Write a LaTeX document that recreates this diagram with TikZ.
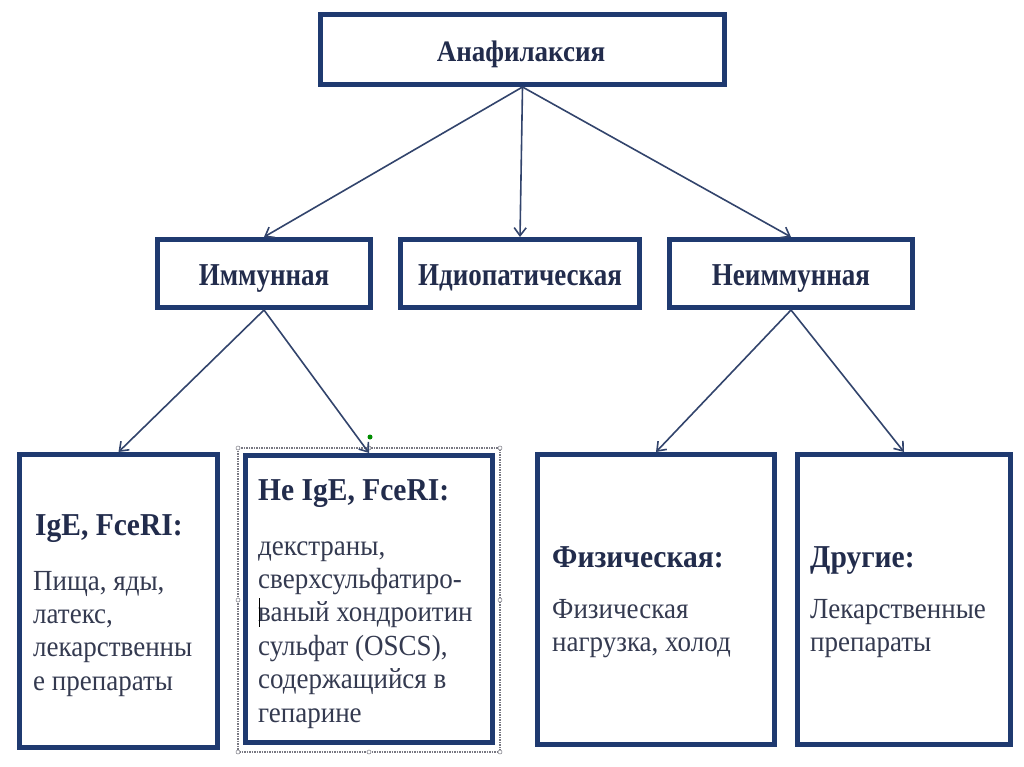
\documentclass[tikz,border=0pt]{standalone}
\usepackage{fontspec}
\usepackage{graphicx}
\setmainfont{Liberation Serif}
\usetikzlibrary{arrows.meta}
\definecolor{boxblue}{RGB}{31,58,112}
\definecolor{arrowblue}{RGB}{50,68,108}
\definecolor{headtext}{RGB}{34,44,76}
\definecolor{bodytext}{RGB}{52,58,80}
\definecolor{selgray}{RGB}{120,120,130}
\newcommand{\vstretch}[2]{\scalebox{1}[#1]{#2}}
\begin{document}
\begin{tikzpicture}[x=1pt,y=-1pt,
  box/.style={draw=boxblue,line width=5pt,fill=white,inner sep=0pt},
  lbl/.style={anchor=base,text=headtext,font=\bfseries\fontsize{27}{32}\selectfont,inner sep=0pt},
  head/.style={anchor=base west,text=headtext,font=\bfseries\fontsize{29.5}{34}\selectfont,inner sep=0pt},
  body/.style={anchor=base west,text=bodytext,font=\fontsize{27}{31}\selectfont,inner sep=0pt},
  conn/.style={draw=arrowblue,line width=1.6pt,-{Straight Barb[length=8pt,width=12pt,line width=1.6pt]}},
  handle/.style={circle,draw=selgray,fill=white,line width=0.5pt,inner sep=0pt,minimum size=4pt}
]
\useasboundingbox[fill=white] (0,0) rectangle (1024,767);

% boxes
\node[box,minimum width=404pt,minimum height=70pt] (top) at (522.5,49.5) {};
\node[box,minimum width=213pt,minimum height=68pt] (imm) at (264,273.5) {};
\node[box,minimum width=239pt,minimum height=68pt] (idio) at (520,273.5) {};
\node[box,minimum width=243pt,minimum height=68pt] (nonimm) at (791,273.5) {};

% selection frame around box 2
\draw[selgray,densely dotted,line width=1.5pt] (238,448) rectangle (500,752);
\node[box,minimum width=198pt,minimum height=293pt] (b1) at (118.5,601) {};
\node[box,minimum width=247pt,minimum height=287pt] (b2) at (369,599) {};
\node[box,minimum width=237pt,minimum height=290pt] (b3) at (656,599.5) {};
\node[box,minimum width=213pt,minimum height=290pt] (b4) at (904,599.5) {};
\foreach \hx/\hy [count=\i] in {238/448,369/448,500/448,238/600,500/600,238/752,369/752,500/752}
  \node[handle] (h\i) at (\hx,\hy) {};
\node[circle,fill=green!55!black,inner sep=0pt,minimum size=5pt] (rot) at (370,437) {};

% labels
\node[lbl] (ttop) at (521,62) {\vstretch{1.1}{Анафилаксия}};
\node[lbl] (timm) at (264,285) {\vstretch{1.18}{Иммунная}};
\node[lbl] (tidio) at (520,285) {\vstretch{1.18}{Идиопатическая}};
\node[lbl] (tnon) at (791,285) {\vstretch{1.18}{Неиммунная}};

\node[head] (h1) at (35,535) {\vstretch{1.08}{IgE, FceRI:}};
\node[body] (t1) at (33,590) {\vstretch{1.08}{\parbox[t]{185pt}{\raggedright Пища, яды,\\латекс,\\лекарственны\\е препараты}}};

\node[head] (h2) at (258,500) {\vstretch{1.08}{Не IgE, FceRI:}};
\node[body] (t2) at (258,555) {\vstretch{1.08}{\parbox[t]{235pt}{\raggedright декстраны,\\сверхсульфатиро-\\ваный хондроитин\\сульфат (OSCS),\\содержащийся в\\гепарине}}};
\draw[black,line width=0.8pt] (259,598) -- (259,627);

\node[head] (h3) at (552,567) {\vstretch{1.08}{Физическая:}};
\node[body] (t3) at (552,618) {\vstretch{1.08}{\parbox[t]{220pt}{\raggedright Физическая\\нагрузка, холод}}};

\node[head] (h4) at (810,567) {\vstretch{1.08}{Другие:}};
\node[body] (t4) at (810,618) {\vstretch{1.08}{\parbox[t]{200pt}{\raggedright Лекарственные\\препараты}}};

% connectors
\draw[conn] (top.south) -- (imm.north);
\draw[conn] (top.south) -- (idio.north);
\draw[conn] (top.south) -- (nonimm.north);
\draw[conn] (imm.south) -- (b1.north);
\draw[conn] (imm.south) -- (b2.north);
\draw[conn] (nonimm.south) -- (b3.north);
\draw[conn] (nonimm.south) -- (b4.north);
\end{tikzpicture}
\end{document}
